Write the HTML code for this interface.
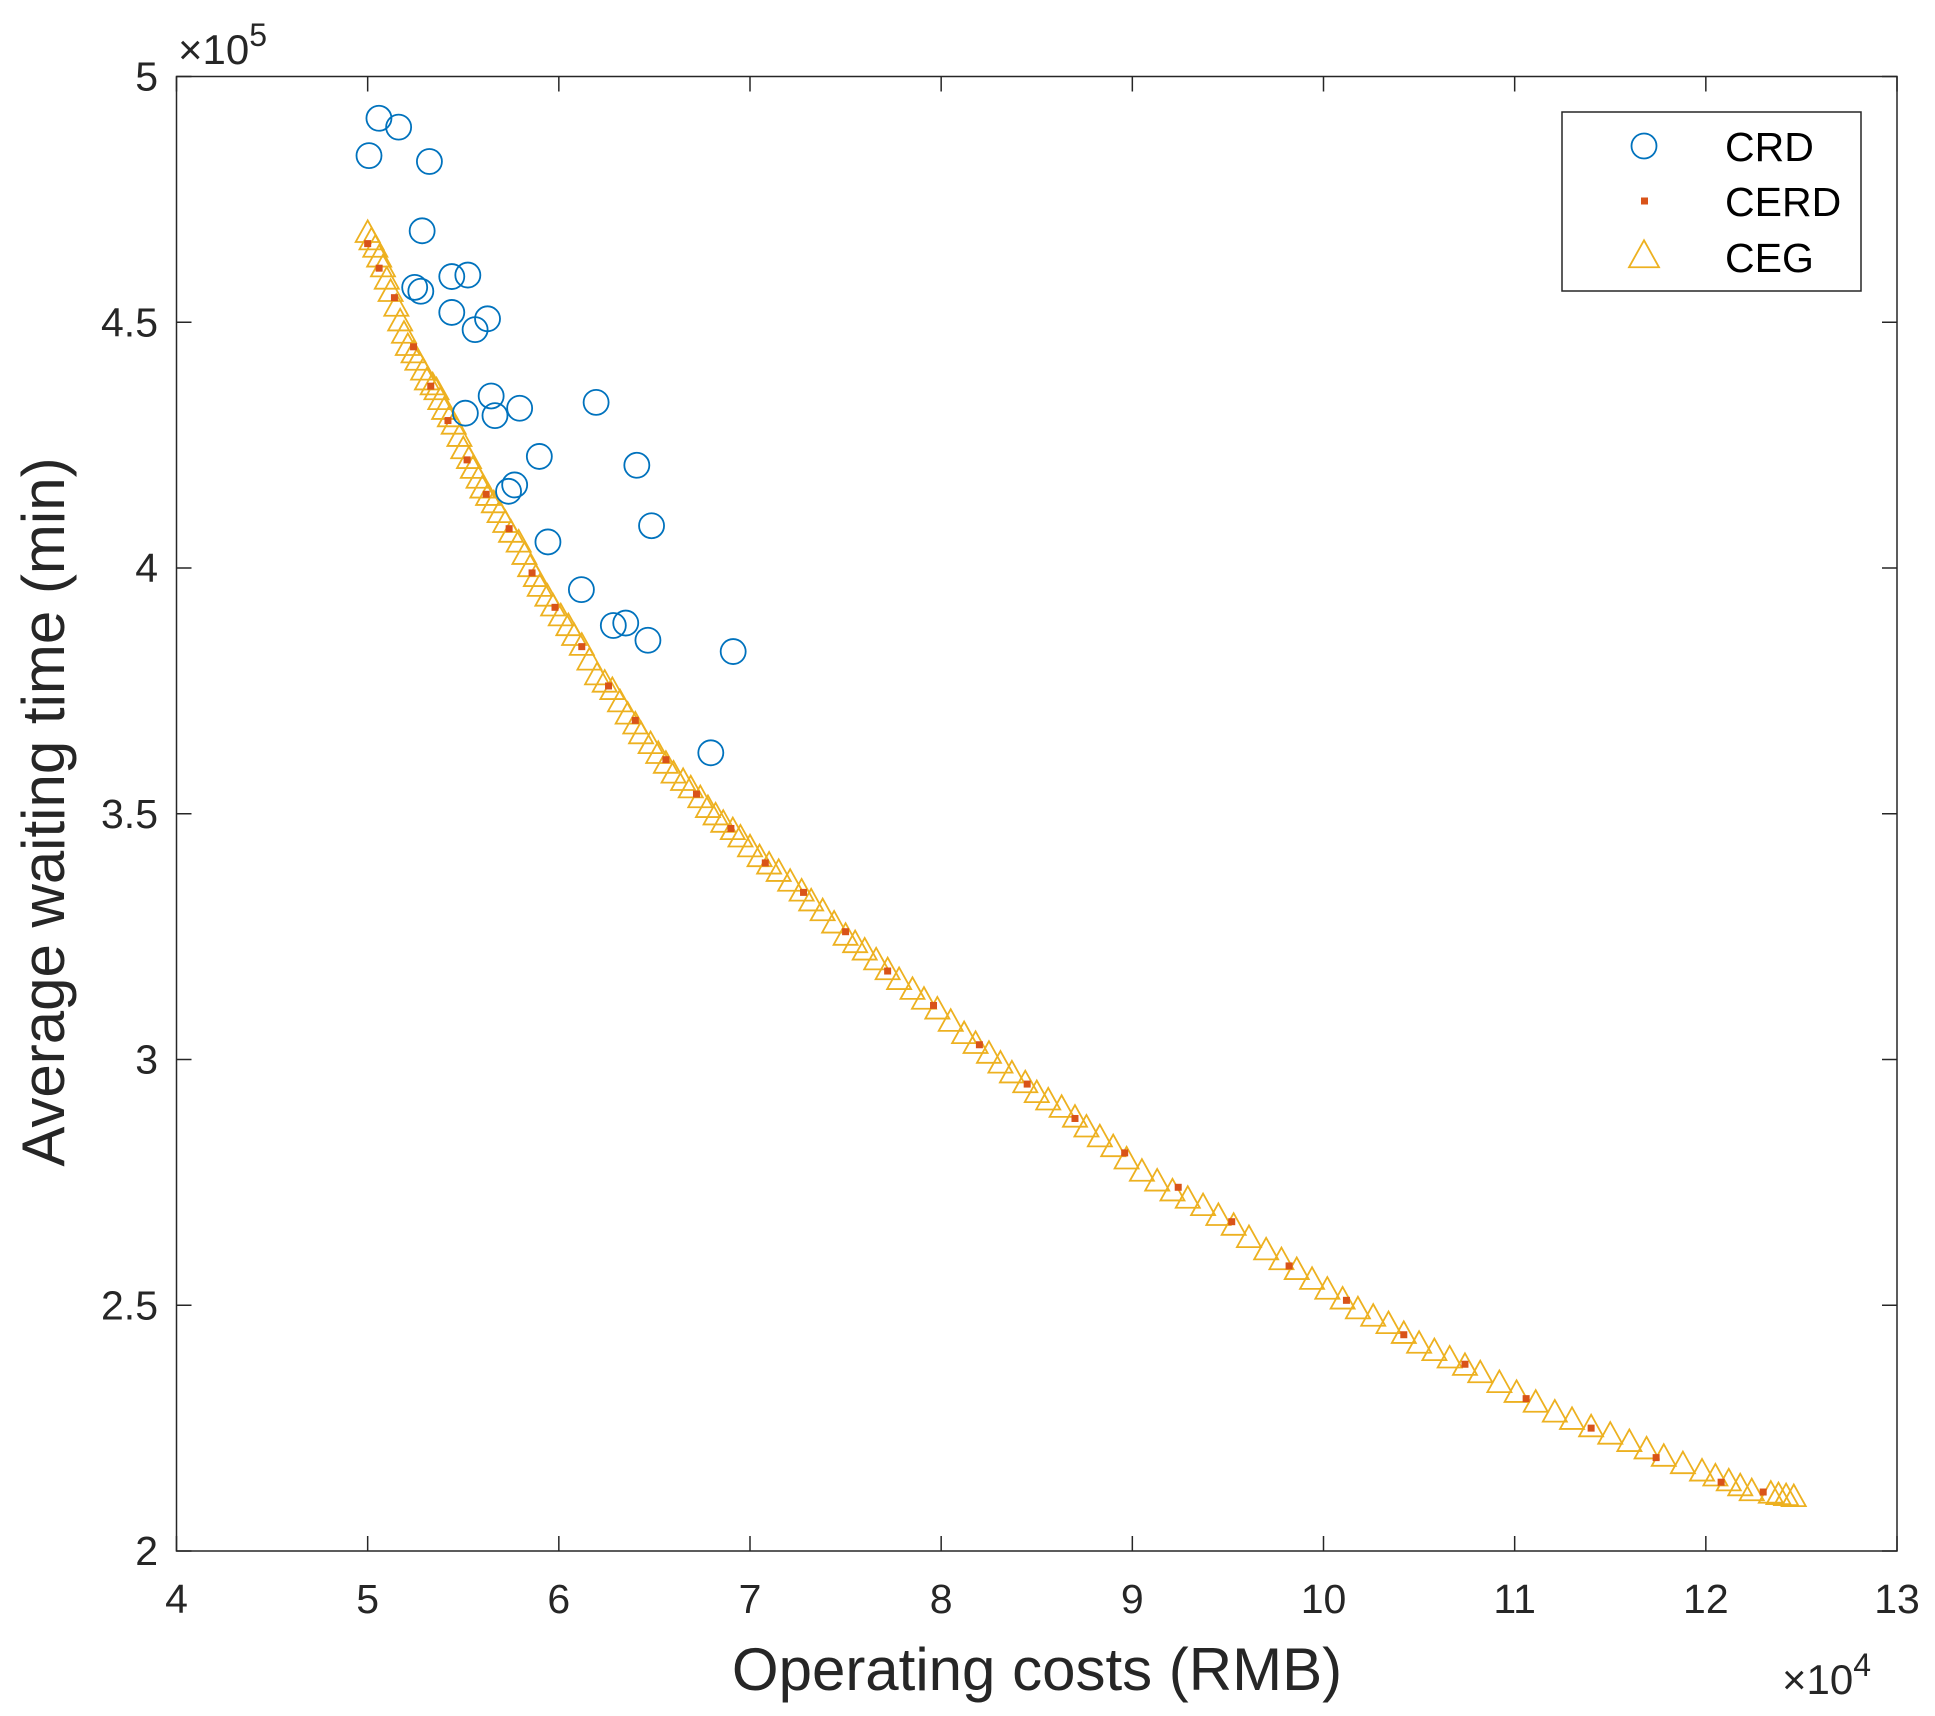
<!DOCTYPE html>
<html><head><meta charset="utf-8">
<style>
html,body{margin:0;padding:0;background:#fff;}
svg{display:block;font-family:"Liberation Sans",Arial,sans-serif;}
</style></head>
<body>
<svg id="chart" width="1935" height="1716" viewBox="0 0 1935 1716" xmlns="http://www.w3.org/2000/svg"></svg>
<script>
const xTicks = [4,5,6,7,8,9,10,11,12,13];
const yTicks = [2,2.5,3,3.5,4,4.5,5];
const yTickLabels = ["2","2.5","3","3.5","4","4.5","5"];
const crdX = [5.007,5.059,5.162,5.323,5.285,5.246,5.278,5.440,5.524,5.440,5.627,5.562,5.511,5.646,5.666,5.795,5.737,5.769,5.898,5.943,6.195,6.408,6.485,6.118,6.285,6.350,6.466,6.912,6.795];
const crdY = [4.839,4.915,4.897,4.827,4.686,4.571,4.563,4.593,4.596,4.520,4.507,4.485,4.315,4.350,4.310,4.325,4.156,4.169,4.227,4.053,4.337,4.209,4.086,3.956,3.883,3.888,3.853,3.830,3.624];
const cegX = [5.00,5.02,5.04,5.06,5.08,5.10,5.12,5.15,5.17,5.19,5.21,5.24,5.26,5.29,5.31,5.34,5.36,5.38,5.40,5.43,5.45,5.48,5.50,5.53,5.55,5.58,5.60,5.63,5.66,5.69,5.72,5.75,5.79,5.82,5.85,5.88,5.90,5.94,5.97,6.01,6.05,6.08,6.12,6.16,6.20,6.24,6.28,6.32,6.36,6.40,6.43,6.48,6.52,6.56,6.60,6.65,6.69,6.74,6.78,6.82,6.86,6.91,6.95,7.00,7.05,7.10,7.15,7.21,7.27,7.32,7.38,7.44,7.50,7.55,7.60,7.66,7.72,7.78,7.85,7.91,7.98,8.05,8.12,8.18,8.25,8.31,8.37,8.44,8.50,8.56,8.63,8.70,8.76,8.83,8.90,8.97,9.05,9.13,9.21,9.29,9.37,9.45,9.53,9.61,9.70,9.78,9.86,9.94,10.02,10.10,10.18,10.26,10.34,10.42,10.50,10.58,10.66,10.74,10.82,10.92,11.01,11.11,11.21,11.30,11.40,11.50,11.60,11.69,11.78,11.88,11.98,12.05,12.12,12.18,12.24,12.34,12.38,12.42,12.46];
const cegY = [4.68,4.665,4.65,4.63,4.61,4.585,4.56,4.53,4.50,4.475,4.45,4.435,4.42,4.40,4.38,4.37,4.36,4.34,4.32,4.305,4.29,4.265,4.24,4.22,4.20,4.18,4.16,4.145,4.13,4.11,4.09,4.07,4.05,4.025,4.00,3.98,3.96,3.94,3.92,3.90,3.88,3.86,3.84,3.81,3.78,3.765,3.75,3.725,3.70,3.68,3.66,3.64,3.62,3.60,3.58,3.565,3.55,3.53,3.51,3.495,3.48,3.465,3.45,3.43,3.41,3.395,3.38,3.36,3.34,3.32,3.30,3.275,3.25,3.235,3.22,3.20,3.18,3.16,3.14,3.12,3.10,3.075,3.05,3.03,3.01,2.99,2.97,2.95,2.93,2.915,2.90,2.88,2.86,2.84,2.82,2.795,2.77,2.75,2.73,2.715,2.70,2.68,2.66,2.635,2.61,2.59,2.57,2.55,2.53,2.51,2.49,2.475,2.46,2.44,2.42,2.405,2.39,2.375,2.36,2.34,2.32,2.30,2.28,2.265,2.25,2.235,2.22,2.205,2.19,2.175,2.16,2.15,2.14,2.13,2.12,2.115,2.112,2.11,2.108];
const cerdX = [5.00,5.06,5.14,5.24,5.33,5.42,5.52,5.62,5.74,5.86,5.98,6.12,6.26,6.40,6.56,6.72,6.90,7.08,7.28,7.50,7.72,7.96,8.20,8.45,8.70,8.96,9.24,9.52,9.82,10.12,10.42,10.74,11.06,11.40,11.74,12.08,12.30];
const cerdY = [4.66,4.61,4.55,4.45,4.37,4.30,4.22,4.15,4.08,3.99,3.92,3.84,3.76,3.69,3.61,3.54,3.47,3.40,3.34,3.26,3.18,3.11,3.03,2.95,2.88,2.81,2.74,2.67,2.58,2.51,2.44,2.38,2.31,2.25,2.19,2.14,2.12];

const L=176.5,R=1897,T=76.5,B=1551;
const xS=v=>L+(v-4)/(13-4)*(R-L);
const yS=v=>B-(v-2)/(5-2)*(B-T);
const svg=document.getElementById('chart');
const NS='http://www.w3.org/2000/svg';
function mk(tag,attrs,parent){const e=document.createElementNS(NS,tag);for(const k in attrs)e.setAttribute(k,attrs[k]);(parent||svg).appendChild(e);return e;}

const frame=mk('rect',{x:L,y:T,width:R-L,height:B-T,fill:'#fff',stroke:'#262626','stroke-width':1.5});



const tl=15;
xTicks.forEach(v=>{
  const x=xS(v);
  const t1=mk('line',{x1:x,y1:B,x2:x,y2:B-tl,stroke:'#262626','stroke-width':1.5});
  
  
  const t2=mk('line',{x1:x,y1:T,x2:x,y2:T+tl,stroke:'#262626','stroke-width':1.5});
  
  
  const tx=mk('text',{x:x,y:1613,'text-anchor':'middle','font-size':41,fill:'#262626'});
  tx.textContent=String(v);
  
  
});
yTicks.forEach((v,i)=>{
  const y=yS(v);
  const t1=mk('line',{x1:L,y1:y,x2:L+tl,y2:y,stroke:'#262626','stroke-width':1.5});
  
  
  const t2=mk('line',{x1:R,y1:y,x2:R-tl,y2:y,stroke:'#262626','stroke-width':1.5});
  
  
  const tx=mk('text',{x:158,y:y+14,'text-anchor':'end','font-size':41,fill:'#262626'});
  tx.textContent=yTickLabels[i];
  
  
});

const ey=mk('text',{x:178,y:64,'font-size':42,fill:'#262626'});
ey.innerHTML='×10<tspan dy="-18" font-size="32">5</tspan>';


const ex=mk('text',{x:1782,y:1694,'font-size':42,fill:'#262626'});
ex.innerHTML='×10<tspan dy="-18" font-size="32">4</tspan>';



const xt=mk('text',{x:1037,y:1690,'text-anchor':'middle','font-size':60,fill:'#262626'});
xt.textContent='Operating costs (RMB)';


const yt=mk('text',{x:0,y:0,'text-anchor':'middle','font-size':60,fill:'#262626',transform:'translate(64,812) rotate(-90)'});
yt.textContent='Average waiting time (min)';



function tri(cx,cy,s){const h=s*0.9;return `${cx},${cy-h*0.62} ${cx-s/2},${cy+h*0.38} ${cx+s/2},${cy+h*0.38}`;}
const gCeg=mk('g',{});


cegX.forEach((v,i)=>{
  const p=mk('polygon',{points:tri(xS(v),yS(cegY[i]),24),fill:'none',stroke:'#EDB120','stroke-width':1.8},gCeg);
  
  
});
const gCerd=mk('g',{});


cerdX.forEach((v,i)=>{
  const p=mk('rect',{x:xS(v)-3.5,y:yS(cerdY[i])-3.5,width:7,height:7,fill:'#D95319'},gCerd);
  
  
});
const gCrd=mk('g',{});


crdX.forEach((v,i)=>{
  const c=mk('circle',{cx:xS(v),cy:yS(crdY[i]),r:12.5,fill:'none',stroke:'#0072BD','stroke-width':1.8},gCrd);
  
  
});

const lg=mk('g',{});


mk('rect',{x:1562,y:112,width:299,height:179,fill:'#fff',stroke:'#262626','stroke-width':1.5},lg);
const names=['CRD','CERD','CEG'];
const rows=[146,201,257];
names.forEach((n,i)=>{
  const y=rows[i];
  let m;
  if(i===0) m=mk('circle',{cx:1644,cy:y,r:12.5,fill:'none',stroke:'#0072BD','stroke-width':1.8},lg);
  else if(i===1) m=mk('rect',{x:1641,y:y-3.5,width:7,height:7,fill:'#D95319'},lg);
  else m=mk('polygon',{points:tri(1644,y,30),fill:'none',stroke:'#EDB120','stroke-width':1.8},lg);
  
  
  const t=mk('text',{x:1725,y:y+15,'font-size':41,fill:'#000'},lg);
  t.textContent=n;
  
  
});
</script>
</body></html>
